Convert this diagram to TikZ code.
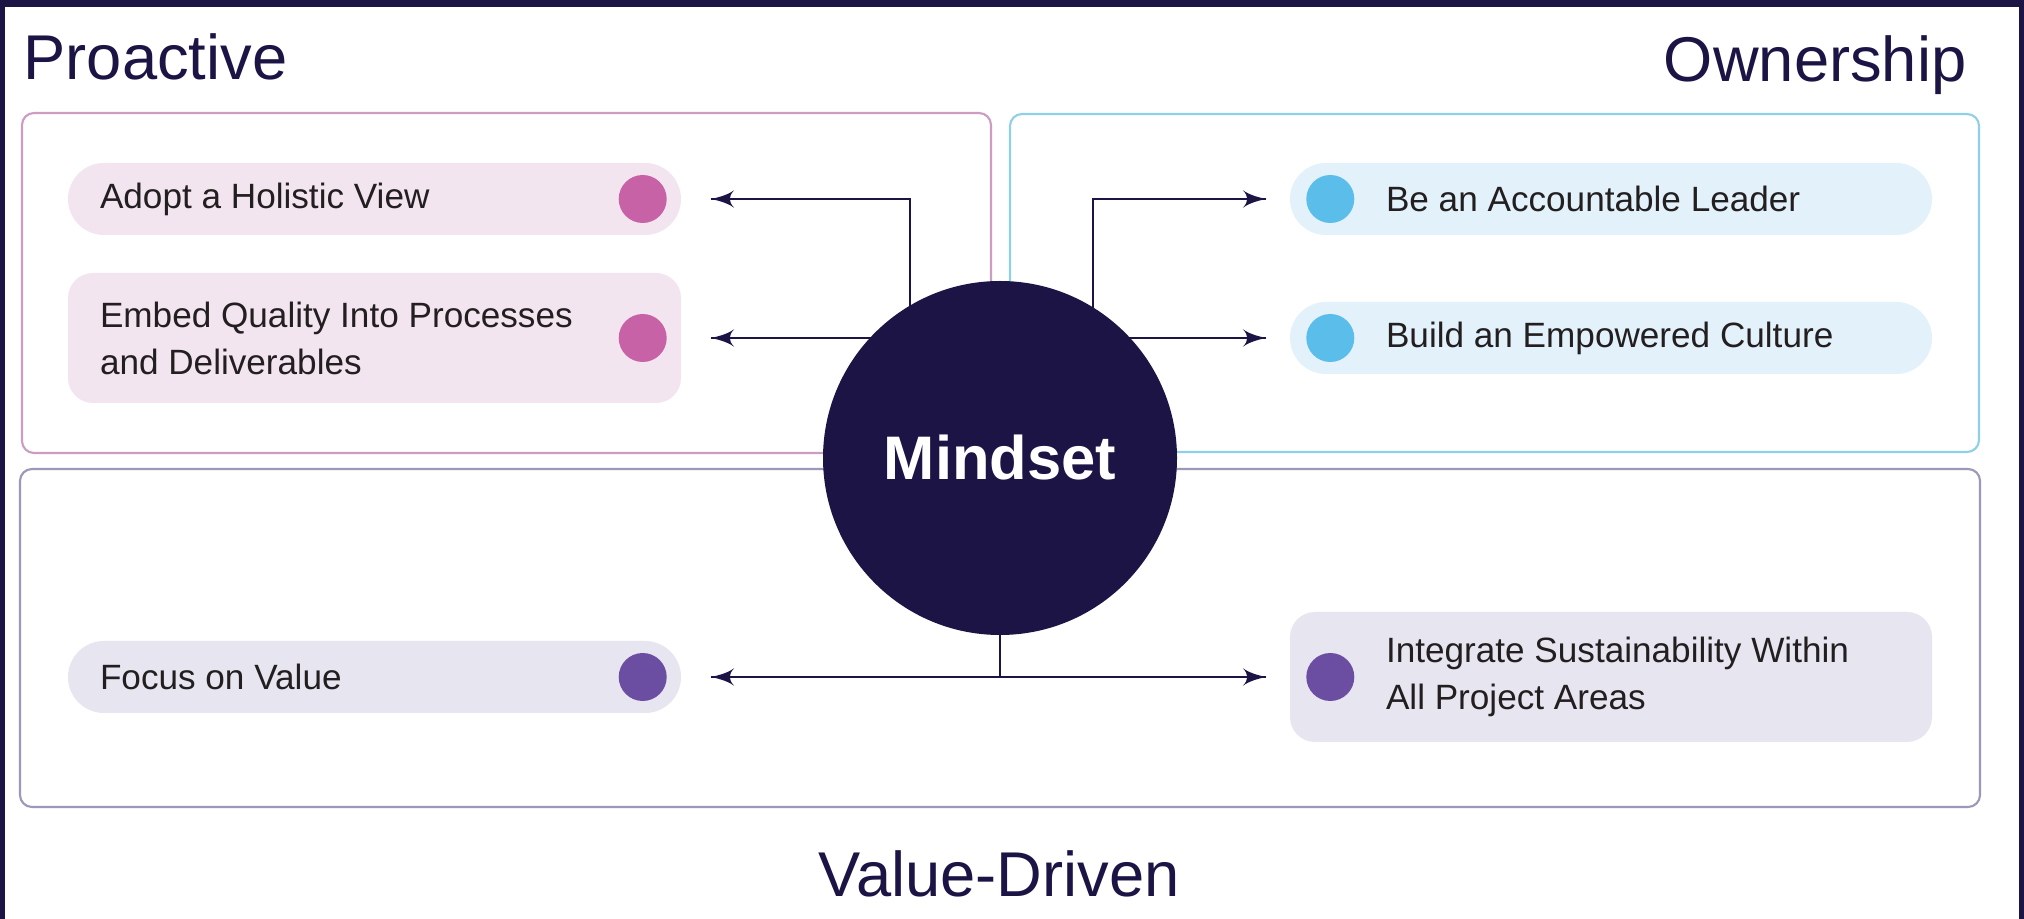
\documentclass[tikz,border=0pt]{standalone}
\usepackage{fontspec}
\setmainfont{Liberation Sans}
\usetikzlibrary{arrows}
\usetikzlibrary{decorations.markings}
\usetikzlibrary{positioning}
\definecolor{navy}{HTML}{1C1445}
\definecolor{ink}{HTML}{231F20}
\definecolor{pinkline}{HTML}{CC9DC2}
\definecolor{pinkfill}{HTML}{F3E5F0}
\definecolor{pinkdot}{HTML}{C862A6}
\definecolor{cyanline}{HTML}{8FD0E8}
\definecolor{cyanfill}{HTML}{E2F1FA}
\definecolor{cyandot}{HTML}{5BBDE9}
\definecolor{purpline}{HTML}{9C98B8}
\definecolor{purpfill}{HTML}{E7E5F0}
\definecolor{purpdot}{HTML}{6B4EA2}
\tikzset{->/.style = {decoration={markings,
                                  mark=at position 1 with {\arrow[scale=1.45]{latex'}}},
                      postaction={decorate}}}
\tikzset{conn/.style = {color=navy, line width=0.6pt}}
\tikzset{frame/.style = {line width=0.6pt, rounded corners=0.12cm}}
\tikzset{pill/.style = {rounded corners=0.36cm, minimum width=6.13cm, minimum height=0.72cm, inner sep=0}}
\tikzset{dot/.style = {circle, inner sep=0, minimum size=0.48cm}}
\tikzset{item/.style = {anchor=west, align=left, inner sep=0, text=ink,
                        font=\fontsize{10}{13.4}\selectfont}}
\tikzset{title/.style = {inner sep=0, text=navy, font=\fontsize{18}{20}\selectfont}}
\tikzset{mind/.style = {circle, fill=navy, minimum size=3.54cm, text=white,
                        font=\fontsize{17.5}{20}\selectfont\bfseries}}

\begin{document}
\begin{tikzpicture}
    % page and dark edge
    \fill [navy] (0, 0) rectangle (20.24, -9.19);
    \fill [white] (0.05, -0.07) rectangle (20.19, -9.19);
    \useasboundingbox (0, 0) rectangle (20.24, -9.19);

    \node [title, anchor=base west] (proactive) at (0.23, -0.80) {Proactive};
    \node [title, anchor=base east] (ownership) at (19.67, -0.82) {Ownership};
    \node [title, anchor=base] (valuedriven) at (9.99, -8.96) {Value-Driven};

    \draw [frame, draw=pinkline] (0.22, -1.13) rectangle (9.91, -4.53);
    \draw [frame, draw=cyanline] (10.10, -1.14) rectangle (19.79, -4.52);
    \draw [frame, draw=purpline] (0.20, -4.69) rectangle (19.80, -8.07);

    % left items
    \node [pill, fill=pinkfill] (pa) at (3.745, -1.99) {};
    \node [pill, fill=pinkfill, minimum height=1.30cm, rounded corners=0.25cm] (pb) at (3.745, -3.38) {};
    \node [pill, fill=purpfill] (pe) at (3.745, -6.77) {};
    \node [item] at ([xshift=0.32cm]pa.west) {Adopt a Holistic View};
    \node [item] at ([xshift=0.32cm]pb.west) {Embed Quality Into Processes\\and Deliverables};
    \node [item] at ([xshift=0.32cm]pe.west) {Focus on Value};
    \node [dot, fill=pinkdot] at ([xshift=-0.39cm]pa.east) {};
    \node [dot, fill=pinkdot] at ([xshift=-0.39cm]pb.east) {};
    \node [dot, fill=purpdot] at ([xshift=-0.39cm]pe.east) {};

    % right items
    \node [pill, fill=cyanfill, minimum width=6.42cm] (pc) at (16.11, -1.99) {};
    \node [pill, fill=cyanfill, minimum width=6.42cm] (pd) at (16.11, -3.38) {};
    \node [pill, fill=purpfill, minimum width=6.42cm, minimum height=1.30cm, rounded corners=0.25cm] (pf) at (16.11, -6.77) {};
    \node [item] at ([xshift=0.96cm]pc.west) {Be an Accountable Leader};
    \node [item] at ([xshift=0.96cm]pd.west) {Build an Empowered Culture};
    \node [item] at ([xshift=0.96cm]pf.west) {Integrate Sustainability Within\\All Project Areas};
    \node [dot, fill=cyandot] at ([xshift=0.41cm]pc.west) {};
    \node [dot, fill=cyandot] at ([xshift=0.41cm]pd.west) {};
    \node [dot, fill=purpdot] at ([xshift=0.41cm]pf.west) {};

    % connectors, hidden under the circle at their start
    \coordinate (c) at (10, -4.58);
    \draw [conn, ->] ([xshift=-0.90cm]c) |- ([xshift=0.29cm]pa.east);
    \draw [conn, ->] (c |- pb) -- ([xshift=0.29cm]pb.east);
    \draw [conn, ->] ([xshift=0.93cm]c) |- ([xshift=-0.23cm]pc.west);
    \draw [conn, ->] (c |- pd) -- ([xshift=-0.23cm]pd.west);
    \draw [conn, ->] (c) |- ([xshift=0.29cm]pe.east);
    \draw [conn, ->] (c) |- ([xshift=-0.23cm]pf.west);

    \node [mind] (mind) at (c) {Mindset};
  \end{tikzpicture}
\end{document}
